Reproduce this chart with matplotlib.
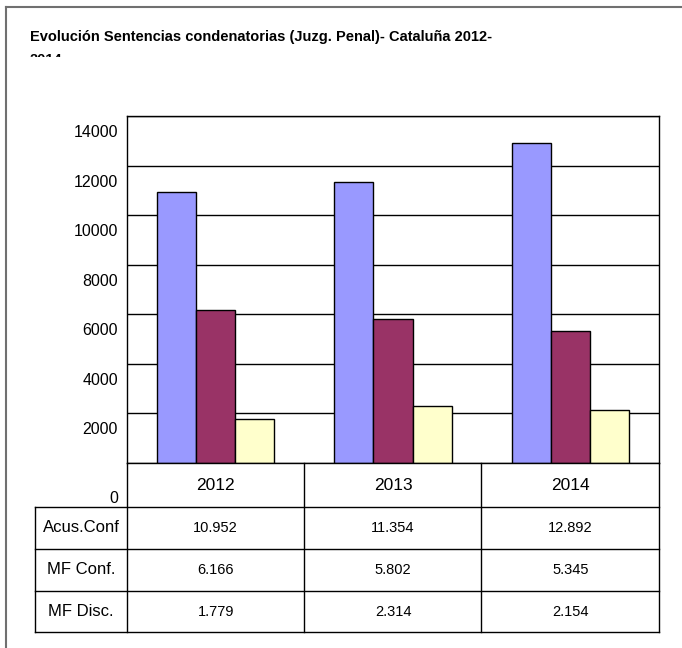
import matplotlib
matplotlib.use("Agg")
import matplotlib.pyplot as plt
from matplotlib.lines import Line2D
from matplotlib.patches import Rectangle
from matplotlib.transforms import ScaledTranslation, blended_transform_factory

years = ["2012", "2013", "2014"]
series_names = ["Acus.Conf", "MF Conf.", "MF Disc."]
acus_conf = [10952, 11354, 12892]
mf_conf = [6166, 5802, 5345]
mf_disc = [1779, 2314, 2154]
cell_text = [["10.952", "11.354", "12.892"],
             ["6.166", "5.802", "5.345"],
             ["1.779", "2.314", "2.154"]]
yticks = [0, 2000, 4000, 6000, 8000, 10000, 12000, 14000]
colors = ["#9999FF", "#993366", "#FFFFCC"]

W, H = 682, 648
plt.rcParams['font.family'] = ['Liberation Sans', 'DejaVu Sans']

fig = plt.figure(figsize=(W / 100, H / 100), dpi=100)


def fx(px):
    return px / W


def fy(py):
    return 1 - py / H


# plot area in pixels
x0, x1, ytop, ybot = 127, 659, 116, 463
ax = fig.add_axes([fx(x0), fy(ybot), (x1 - x0) / W, (ybot - ytop) / H])

bw = 0.22
xs = range(len(years))
for k, vals in enumerate([acus_conf, mf_conf, mf_disc]):
    ax.bar([i + (k - 1) * bw for i in xs], vals, width=bw, color=colors[k],
           edgecolor="black", linewidth=1, zorder=2)

ax.set_xlim(-0.5, len(years) - 0.5)
ax.set_ylim(0, 14000)
ax.set_yticks(yticks)
ax.set_yticklabels([str(v) for v in yticks], fontsize=11.5)
ax.set_xticks([])
ax.tick_params(axis="y", length=0, pad=6.5)
ax.yaxis.grid(True, color="black", linewidth=1)
ax.set_axisbelow(True)
for s in ax.spines.values():
    s.set_color("black")
    s.set_linewidth(1)

# tick labels sit a bit lower than their gridlines in the original
for lab, v in zip(ax.get_yticklabels(), yticks):
    dy = 34 if v == 0 else 15
    lab.set_transform(lab.get_transform() + ScaledTranslation(0, -dy / 100, fig.dpi_scale_trans))

# data table under the plot, drawn by hand
tx0 = 35
row_edges = [463, 507, 549, 591, 632]
col_edges = [x0, 304, 481, x1]
lc = dict(color="black", linewidth=1)
for y in row_edges[1:]:
    fig.add_artist(Line2D([fx(tx0), fx(x1)], [fy(y), fy(y)], **lc))
fig.add_artist(Line2D([fx(tx0), fx(tx0)], [fy(row_edges[1]), fy(row_edges[-1])], **lc))
for x in col_edges:
    fig.add_artist(Line2D([fx(x), fx(x)], [fy(row_edges[0]), fy(row_edges[-1])], **lc))

trans = blended_transform_factory(ax.transData, fig.transFigure)
ymid = [(row_edges[i] + row_edges[i + 1]) / 2 for i in range(len(row_edges) - 1)]
for i, yr in enumerate(years):
    ax.text(i, fy(ymid[0]), yr, transform=trans, ha="center", va="center",
            fontsize=12.5, clip_on=False)
for r, name in enumerate(series_names):
    fig.text(fx((tx0 + x0) / 2), fy(ymid[r + 1]), name, ha="center", va="center", fontsize=12)
    for i in xs:
        ax.text(i, fy(ymid[r + 1]), cell_text[r][i], transform=trans, ha="center",
                va="center", fontsize=10.5, clip_on=False)

# title; the second line is cut off in the original, so mask it
fig.text(fx(30), fy(30), "Evolución Sentencias condenatorias (Juzg. Penal)- Cataluña 2012-\n2014",
         fontsize=10.5, fontweight="bold", ha="left", va="top", linespacing=1.8, zorder=3)
fig.add_artist(Rectangle((fx(20), fy(100)), fx(100), (100 - 57) / H, facecolor="white",
                         edgecolor="none", zorder=4))

# outer frame (top and left only)
fig.add_artist(Line2D([fx(6), 1], [fy(7), fy(7)], color="#707070", linewidth=1.5))
fig.add_artist(Line2D([fx(6), fx(6)], [0, fy(7)], color="#707070", linewidth=1.5))

fig.savefig("out.png", dpi=100)
